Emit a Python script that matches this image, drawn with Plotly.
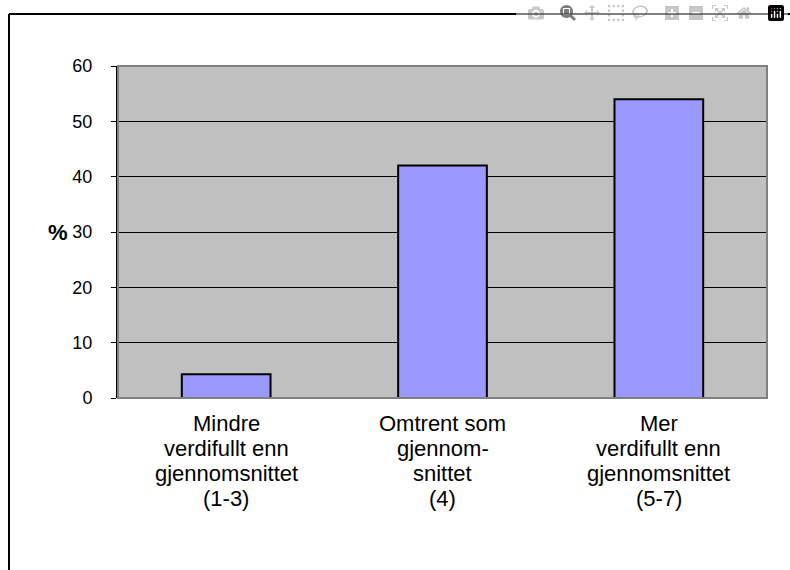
import plotly.graph_objects as go

# data
categories = ["Mindre", "Omtrent som", "Mer"]
label_lines = [["Mindre", "verdifullt enn", "gjennomsnittet", "(1-3)"],
               ["Omtrent som", "gjennom-", "snittet", "(4)"],
               ["Mer", "verdifullt enn", "gjennomsnittet", "(5-7)"]]
values = [4.3, 42.0, 54.0]
y_ticks = [0, 10, 20, 30, 40, 50, 60]

# full window, page margin removed below
W, H = 790, 570
L, R, T, B = 118, 23, 66, 172

fig = go.Figure()
fig.add_trace(go.Bar(
    x=categories,
    y=values,
    marker=dict(color='#9999FF', line=dict(color='black', width=2)),
    hoverinfo='y'
))

# category labels, one annotation per line to get Excel-like line spacing
plot_w = W - L - R
plot_h = H - T - B
annotations = []
for cat, lines in zip(categories, label_lines):
    for i, line in enumerate(lines):
        annotations.append(dict(
            text=line, x=cat, xref='x', yref='paper',
            y=-(25 + 25 * i) / plot_h, xanchor='center', yanchor='middle',
            showarrow=False, font=dict(size=22)
        ))
annotations.append(dict(text='<b>%</b>', xref='paper', yref='y', x=(70 - L) / plot_w, y=30,
                        xanchor='right', yanchor='middle', showarrow=False,
                        font=dict(size=22)))

# outer chart frame: only its top and left edges fall inside the picture
fx0 = (9 - L) / plot_w
fx1 = (W - L) / plot_w
fy0 = -B / plot_h
fy1 = 1 + (T - 14) / plot_h
frame = dict(color='black', width=2)

fig.update_layout(
    width=W,
    height=H,
    margin=dict(l=L, r=R, t=T, b=B),
    paper_bgcolor='white',
    plot_bgcolor='#C0C0C0',
    bargap=0.59,
    showlegend=False,
    font=dict(family='Liberation Sans, Arial', size=18, color='black'),
    xaxis=dict(
        showgrid=False,
        showline=False,
        ticks='',
        showticklabels=False
    ),
    yaxis=dict(
        range=[0, 60],
        tickvals=y_ticks,
        showgrid=True,
        gridcolor='black',
        gridwidth=1,
        zeroline=False,
        showline=True,
        linecolor='black',
        linewidth=2,
        ticks='outside',
        ticklen=5,
        tickcolor='black',
        ticklabelstandoff=15,
        tickfont=dict(size=18)
    ),
    shapes=[
        # grey border around plot area
        dict(type='rect', xref='paper', yref='paper', x0=0, y0=0, x1=1, y1=1,
             line=dict(color='#808080', width=2), layer='above'),
        dict(type='line', xref='paper', yref='paper', x0=fx0, y0=fy1, x1=fx1, y1=fy1, line=frame),
        dict(type='line', xref='paper', yref='paper', x0=fx0, y0=fy1, x1=fx0, y1=fy0, line=frame)
    ],
    annotations=annotations
)

fig.write_html("out.html",
               post_script="document.body.style.margin='0px';document.body.style.overflow='hidden';")
